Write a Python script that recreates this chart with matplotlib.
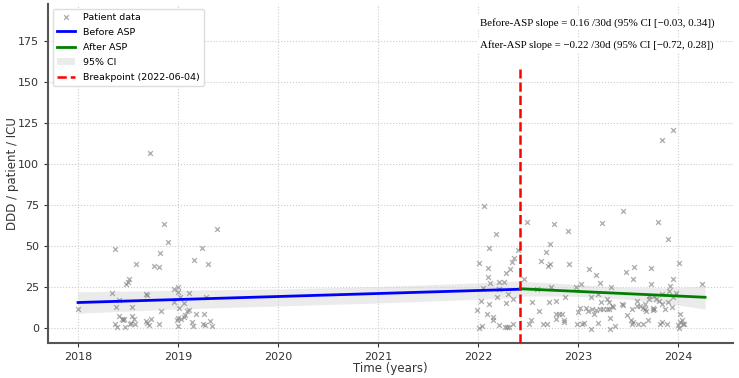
import numpy as np
import matplotlib.pyplot as plt

# patient observations (time in decimal years, DDD per patient per ICU)
pre_t = [2018.00, 2018.34, 2018.37, 2018.38, 2018.41, 2018.41, 2018.37, 2018.39, 2018.44, 2018.45,
         2018.46, 2018.47, 2018.48, 2018.50, 2018.51, 2018.52, 2018.53, 2018.54, 2018.54, 2018.56,
         2018.57, 2018.58, 2018.68, 2018.69, 2018.68, 2018.69, 2018.71, 2018.72, 2018.73, 2018.76,
         2018.81, 2018.81, 2018.82, 2018.83, 2018.86, 2018.90, 2018.96, 2018.96, 2019.00, 2019.00,
         2019.02, 2019.01, 2019.06, 2019.11, 2019.00, 2019.03, 2019.06, 2019.07, 2019.09, 2019.11,
         2018.99, 2019.00, 2019.14, 2019.15, 2019.16, 2019.18, 2019.24, 2019.25, 2019.26, 2019.27,
         2019.28, 2019.30, 2019.32, 2019.34, 2019.39]
pre_y = [11.8, 21.3, 48.0, 12.8, 16.9, 7.5, 2.7, 0.7, 5.7, 4.9,
         5.7, 0.8, 26.8, 27.8, 30.1, 2.6, 2.8, 12.8, 7.4, 5.7,
         2.7, 39.2, 20.7, 20.3, 4.1, 3.3, 1.6, 106.9, 5.5, 38.0,
         37.2, 2.7, 45.5, 10.2, 63.4, 52.6, 23.6, 15.9, 24.8, 22.0,
         18.8, 12.4, 15.4, 21.5, 6.3, 5.3, 6.9, 7.8, 10.2, 11.0,
         4.8, 1.4, 3.7, 1.4, 41.7, 8.6, 49.0, 2.5, 8.6, 1.6,
         18.8, 38.8, 4.4, 1.2, 60.2]

post_t = [2022.06, 2022.18, 2022.11, 2022.01, 2022.10, 2022.10, 2022.05, 2022.12, 2022.21, 2022.26,
          2022.28, 2022.32, 2022.34, 2022.36, 2022.40, 2022.21, 2022.19, 2022.03, 2022.11, 2021.99,
          2022.09, 2022.15, 2022.15, 2022.28, 2022.30, 2022.35, 2022.21, 2022.01, 2022.04, 2022.27,
          2022.29, 2022.31, 2022.35, 2022.46, 2022.49, 2022.54, 2022.59, 2022.61, 2022.51, 2022.53,
          2022.63, 2022.65, 2022.69, 2022.68, 2022.72, 2022.70, 2022.72, 2022.71, 2022.73, 2022.76,
          2022.78, 2022.78, 2022.81, 2022.84, 2022.78, 2022.86, 2022.86, 2022.87, 2022.90, 2022.91,
          2022.98, 2022.99, 2023.00, 2023.02, 2023.03, 2023.04, 2023.06, 2023.08, 2023.10, 2023.11,
          2023.13, 2023.13, 2023.14, 2023.16, 2023.18, 2023.18, 2023.20, 2023.20, 2023.22, 2023.23,
          2023.22, 2023.25, 2023.24, 2023.29, 2023.31, 2023.29, 2023.31, 2023.32, 2023.33, 2023.34,
          2023.32, 2023.37, 2023.35, 2023.44, 2023.45, 2023.45, 2023.48, 2023.49, 2023.53, 2023.54,
          2023.55, 2023.55, 2023.56, 2023.54, 2023.59, 2023.60, 2023.59, 2023.62, 2023.65, 2023.65,
          2023.67, 2023.67, 2023.68, 2023.70, 2023.71, 2023.71, 2023.73, 2023.73, 2023.75, 2023.75,
          2023.76, 2023.76, 2023.78, 2023.80, 2023.82, 2023.84, 2023.81, 2023.84, 2023.84, 2023.87,
          2023.89, 2023.90, 2023.90, 2023.91, 2023.92, 2023.94, 2023.95, 2023.95, 2024.01, 2024.00,
          2024.01, 2024.02, 2024.02, 2024.05, 2024.06, 2024.04, 2024.24, 2023.95, 2023.84, 2023.98]
post_y = [74.6, 57.3, 48.8, 39.8, 36.8, 31.3, 24.6, 27.2, 28.0, 28.0,
          33.7, 36.2, 40.4, 42.5, 47.6, 23.6, 18.9, 16.3, 14.6, 11.2,
          8.7, 6.9, 4.9, 15.4, 20.7, 17.9, 2.0, 0.2, 1.0, 0.4,
          0.4, 0.8, 2.6, 29.7, 64.4, 16.1, 23.6, 10.4, 2.4, 5.1,
          41.0, 2.4, 2.4, 46.5, 51.4, 37.8, 38.8, 15.7, 25.2, 63.2,
          16.7, 8.5, 8.5, 8.5, 5.7, 4.9, 3.7, 18.7, 59.3, 39.0,
          25.0, 2.4, 9.9, 12.2, 26.8, 2.4, 3.2, 12.2, 10.4, 35.8,
          18.9, -0.4, 11.8, 8.5, 11.2, 32.1, 20.7, 2.8, 27.4, 16.1,
          11.6, 11.8, 63.8, 17.5, 15.7, 11.8, 11.8, 6.3, 25.0, 13.4,
          -0.4, 1.4, 12.5, 14.6, 13.8, 71.3, 34.3, 7.9, 4.7, 2.6,
          3.5, 29.7, 37.4, 11.8, 13.4, 2.6, 16.5, 13.2, 2.6, 12.0,
          11.8, 14.8, 10.5, 5.1, 19.5, 17.5, 36.6, 26.8, 12.2, 10.8,
          11.8, 19.5, 17.5, 64.4, 2.6, 3.5, 16.3, 14.6, 20.7, 11.6,
          2.6, 16.1, 54.3, 22.4, 25.6, 13.0, 30.1, 18.7, 39.8, 1.6,
          0.0, 3.7, 8.5, 2.6, 2.6, 4.7, 26.8, 120.7, 114.6, 21.3]

breakpoint = 2022.42  # 2022-06-04

# fitted segments
pre_fit_t = [2018.0, breakpoint]
pre_fit_y = [15.5, 23.6]
post_fit_t = [breakpoint, 2024.27]
post_fit_y = [23.9, 18.7]

# 95% CI band
ci_pre_t = [2018.0, 2019.0, 2020.0, 2021.0, 2022.0, breakpoint]
ci_pre_lo = [9.0, 11.6, 13.4, 15.2, 17.5, 18.6]
ci_pre_hi = [22.0, 23.0, 23.8, 25.2, 27.5, 28.8]
ci_post_t = [breakpoint, 2022.75, 2023.0, 2023.5, 2024.0, 2024.27]
ci_post_lo = [19.4, 19.5, 19.2, 17.4, 14.0, 11.5]
ci_post_hi = [28.4, 27.5, 26.4, 24.6, 24.5, 25.5]

fig = plt.figure(figsize=(7.39, 3.78), dpi=100)
ax = fig.add_axes([0.065, 0.093, 0.927, 0.896])

ax.scatter(pre_t + post_t, pre_y + post_y, marker='x', s=12, color='gray',
           alpha=0.6, linewidths=1, label='Patient data', zorder=2)
ax.plot(pre_fit_t, pre_fit_y, color='blue', lw=2, label='Before ASP', zorder=3)
ax.plot(post_fit_t, post_fit_y, color='green', lw=2, label='After ASP', zorder=3)
ax.fill_between(ci_pre_t, ci_pre_lo, ci_pre_hi, color='lightgray', alpha=0.45,
                lw=0, label='95% CI', zorder=1)
ax.fill_between(ci_post_t, ci_post_lo, ci_post_hi, color='lightgray', alpha=0.45,
                lw=0, zorder=1)
ax.axvline(breakpoint, ymin=0, ymax=0.81, color='red', ls='--', lw=1.8,
           label='Breakpoint (2022-06-04)', zorder=4)

ax.set_xlim(2017.7, 2024.55)
ax.set_ylim(-9.1, 197.5)
ax.set_xticks([2018, 2019, 2020, 2021, 2022, 2023, 2024])
ax.set_yticks([0, 25, 50, 75, 100, 125, 150, 175])
ax.grid(True, ls=':', color='#cccccc', lw=0.8)
ax.set_axisbelow(True)
for s in ['top', 'right']:
    ax.spines[s].set_visible(False)
for s in ['left', 'bottom']:
    ax.spines[s].set_color('#555555')
    ax.spines[s].set_linewidth(1.5)
ax.tick_params(labelsize=8, colors='#333333', length=3)
ax.set_xlabel('Time (years)', fontsize=8.5, color='#333333', labelpad=0)
ax.set_ylabel('DDD / patient / ICU', fontsize=8.5, color='#333333')
ax.yaxis.set_label_coords(-0.043, 0.5)

leg = ax.legend(loc='upper left', fontsize=6.8, scatterpoints=1, framealpha=1,
                borderaxespad=0.5, labelspacing=0.65)
leg.get_frame().set_edgecolor('#dddddd')

box = dict(facecolor='white', edgecolor='none', pad=1.3)
ax.text(0.631, 0.945, 'Before-ASP slope = 0.16 /30d (95% CI [\u22120.03, 0.34])',
        transform=ax.transAxes, fontsize=7.8, family='Liberation Serif',
        va='center', bbox=box, zorder=5)
ax.text(0.631, 0.878, 'After-ASP slope = \u22120.22 /30d (95% CI [\u22120.72, 0.28])',
        transform=ax.transAxes, fontsize=7.8, family='Liberation Serif',
        va='center', bbox=box, zorder=5)

fig.savefig('out.png', dpi=100)
